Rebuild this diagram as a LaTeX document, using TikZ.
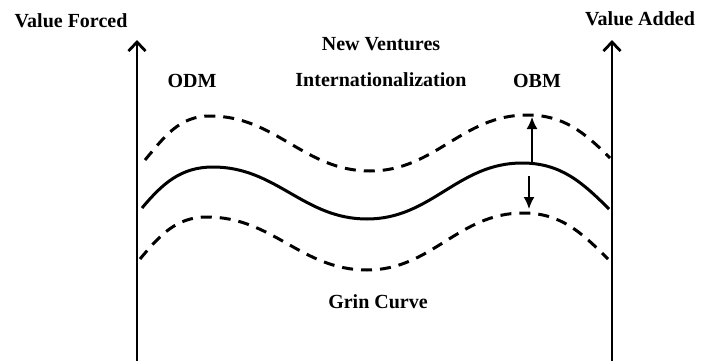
\documentclass[tikz,border=0pt]{standalone}
\usepackage{fontspec}
\setmainfont{Liberation Serif}
\usepackage{tikz}
\usetikzlibrary{arrows.meta, calc}

\begin{document}
\begin{tikzpicture}[x=1pt, y=-1pt,
  label text/.style={font=\fontsize{20}{22}\selectfont\bfseries, anchor=base, inner sep=0pt},
  axis line/.style={-{Straight Barb[length=9pt,width=17pt]}, line width=2.8pt},
  grin line/.style={line width=3pt},
  band line/.style={line width=3pt, dash pattern=on 11pt off 8pt},
  shift arrow/.style={-{Latex[length=12pt,width=11pt]}, line width=1.6pt}]
\useasboundingbox (0,0) rectangle (712,361);

% axes
\coordinate (left base) at (137,361);
\coordinate (left top) at (137,40);
\coordinate (right base) at (612,361);
\coordinate (right top) at (612,40);
\draw[axis line] (left base) -- (left top);
\draw[axis line] (right base) -- (right top);

\node[label text] (value forced) at (71,28) {Value Forced};
\node[label text] (value added) at (640,26) {Value Added};
\node[label text] (new ventures) at (381,51) {New Ventures};
\node[label text] (inter) at (381,86) {Internationalization};
\node[label text] (odm) at (192,87) {ODM};
\node[label text] (obm) at (537,87) {OBM};
\node[label text] (grin curve) at (378,308) {Grin Curve};

% curves
\draw[band line] (145,160) to[out=50,in=180] (210,116) to[out=0,in=180] (370,171)
  to[out=0,in=180] (527,115) to[out=0,in=135] (610,158);
\draw[grin line] (142,208) to[out=50,in=180] (213,167) to[out=0,in=180] (367,219)
  to[out=0,in=180] (522,163) to[out=0,in=135] (609,209);
\draw[band line] (140,259) to[out=50,in=180] (207,217) to[out=0,in=180] (367,270)
  to[out=0,in=180] (523,213) to[out=0,in=135] (608,259);

% shift arrows
\coordinate (up start) at (532,162);
\coordinate (up end) at (532,117);
\coordinate (down start) at (529,176);
\coordinate (down end) at (529,209);
\draw[shift arrow] (up start) -- (up end);
\draw[shift arrow] (down start) -- (down end);

\end{tikzpicture}
\end{document}
